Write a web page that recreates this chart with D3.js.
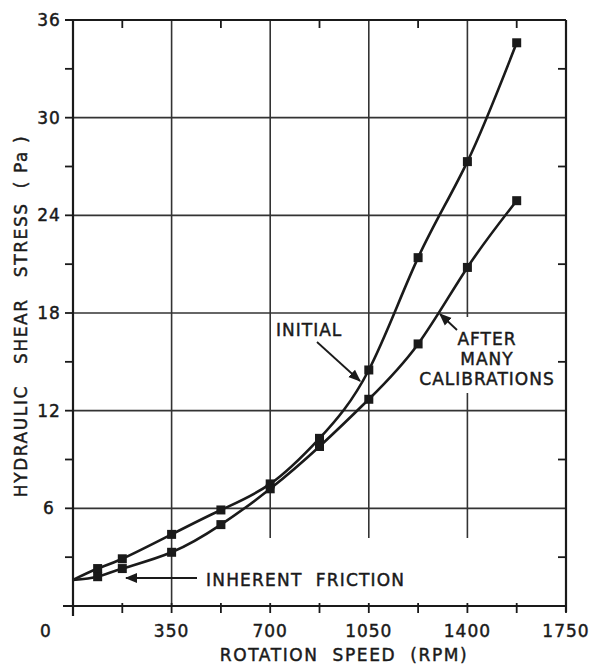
<!DOCTYPE html>
<html>
<head>
<meta charset="utf-8">
<script src="https://cdn.jsdelivr.net/npm/d3@7"></script>
<style>
  body { margin: 0; background: #fff; }
  text { font-family: "DejaVu Sans", sans-serif; fill: #1a1a1a; stroke: #1a1a1a; stroke-width: 0.45; }
</style>
</head>
<body>
<svg id="chart" width="591" height="664"></svg>
<script>
// dati
const rpm = [87.5, 175, 350, 525, 700, 875, 1050, 1225, 1400, 1575];
const initial = [2.3, 2.9, 4.4, 5.9, 7.5, 10.3, 14.5, 21.4, 27.3, 34.6];
const afterCal = [1.8, 2.3, 3.3, 5.0, 7.2, 9.8, 12.7, 16.1, 20.8, 24.9];
const friction = 1.6;
const xTicks = [0, 350, 700, 1050, 1400, 1750];
const yTicks = [6, 12, 18, 24, 30, 36];

const svg = d3.select("#chart");
const ink = "#1a1a1a";

const x = d3.scaleLinear().domain([0, 1750]).range([73, 566]);
const y = d3.scaleLinear().domain([0, 36]).range([606, 20]);

// griglia verticale (alcune linee interrotte come nell'originale)
const gridCut = { 700: 538, 1050: 538, 1400: 538 };
xTicks.slice(1, -1).forEach(v => {
  const yEnd = gridCut[v] || y(0);
  if (v === 1400) {
    svg.append("line").attr("x1", x(v)).attr("x2", x(v)).attr("y1", y(36)).attr("y2", 317);
    svg.append("line").attr("x1", x(v)).attr("x2", x(v)).attr("y1", 393).attr("y2", yEnd);
  } else {
    svg.append("line").attr("x1", x(v)).attr("x2", x(v)).attr("y1", y(36)).attr("y2", yEnd);
  }
});
svg.selectAll("line").attr("stroke", "#333").attr("stroke-width", 1.6);

// griglia orizzontale
svg.selectAll(".hgrid")
  .data(yTicks.slice(0, -1))
  .enter().append("line")
  .attr("class", "hgrid")
  .attr("x1", x(0)).attr("x2", x(1750))
  .attr("y1", d => y(d)).attr("y2", d => y(d))
  .attr("stroke", "#333").attr("stroke-width", 1.6);

// cornice
const frame = svg.append("g").attr("stroke", ink).attr("stroke-width", 2.2);
frame.append("line").attr("x1", x(0)).attr("x2", x(0)).attr("y1", y(36)).attr("y2", y(0) + 10);
frame.append("line").attr("x1", x(0) - 10).attr("x2", x(1750)).attr("y1", y(0)).attr("y2", y(0));
frame.append("line").attr("x1", x(0) - 8).attr("x2", x(1750)).attr("y1", y(36)).attr("y2", y(36));
frame.append("line").attr("x1", x(1750)).attr("x2", x(1750)).attr("y1", y(36)).attr("y2", y(0) + 6);

// tacche
const tk = svg.append("g").attr("stroke", ink).attr("stroke-width", 1.8);
d3.range(0, 37, 3).forEach(v => {
  tk.append("line").attr("x1", x(0) - 8).attr("x2", x(0)).attr("y1", y(v)).attr("y2", y(v));
  if (v % 6 !== 0) {
    tk.append("line").attr("x1", x(1750) - 8).attr("x2", x(1750)).attr("y1", y(v)).attr("y2", y(v));
  }
});
d3.range(0, 1751, 175).forEach(v => {
  tk.append("line").attr("x1", x(v)).attr("x2", x(v)).attr("y1", y(0) - 3).attr("y2", y(0) + 7);
  if (v % 350 !== 0) {
    tk.append("line").attr("x1", x(v)).attr("x2", x(v)).attr("y1", y(36)).attr("y2", y(36) + 8);
  }
});

// etichette assi
svg.selectAll(".ylab")
  .data(yTicks)
  .enter().append("text")
  .attr("x", 49).attr("y", d => y(d) + 6)
  .attr("text-anchor", "middle")
  .attr("font-size", 17).attr("letter-spacing", 1)
  .text(d => d);

svg.selectAll(".xlab")
  .data(xTicks)
  .enter().append("text")
  .attr("x", d => d === 0 ? 46 : x(d)).attr("y", 637)
  .attr("text-anchor", "middle")
  .attr("font-size", 17).attr("letter-spacing", 1)
  .text(d => d);

svg.append("text")
  .attr("x", 344).attr("y", 661)
  .attr("text-anchor", "middle")
  .attr("font-size", 17).attr("letter-spacing", 1.6)
  .attr("xml:space", "preserve")
  .text("ROTATION  SPEED  (RPM)");

svg.append("text")
  .attr("transform", "translate(27,316) rotate(-90)")
  .attr("text-anchor", "middle")
  .attr("font-size", 17).attr("letter-spacing", 1.6)
  .attr("xml:space", "preserve")
  .text("HYDRAULIC   SHEAR   STRESS  ( Pa )");

// curve
const line = d3.line()
  .x(d => x(d[0]))
  .y(d => y(d[1]))
  .curve(d3.curveNatural);

[initial, afterCal].forEach(series => {
  const pts = [[0, friction]].concat(rpm.map((r, i) => [r, series[i]]));
  svg.append("path")
    .attr("d", line(pts))
    .attr("fill", "none")
    .attr("stroke", ink)
    .attr("stroke-width", 2.6);
  svg.selectAll(null)
    .data(rpm.map((r, i) => [r, series[i]]))
    .enter().append("rect")
    .attr("x", d => x(d[0]) - 4.5)
    .attr("y", d => y(d[1]) - 4.5)
    .attr("width", 9).attr("height", 9)
    .attr("fill", ink);
});

// annotazioni
const defs = svg.append("defs");
defs.append("marker")
  .attr("id", "head")
  .attr("viewBox", "0 0 10 10")
  .attr("refX", 9).attr("refY", 5)
  .attr("markerWidth", 7).attr("markerHeight", 7)
  .attr("orient", "auto-start-reverse")
  .append("path").attr("d", "M0,1 L10,5 L0,9 Z").attr("fill", ink);

function arrow(x1, y1, x2, y2) {
  svg.append("line")
    .attr("x1", x1).attr("y1", y1).attr("x2", x2).attr("y2", y2)
    .attr("stroke", ink).attr("stroke-width", 1.8)
    .attr("marker-end", "url(#head)");
}

svg.append("text")
  .attr("x", 206).attr("y", 586)
  .attr("font-size", 17).attr("letter-spacing", 1.2)
  .attr("xml:space", "preserve")
  .text("INHERENT  FRICTION");
arrow(197, 578, 126, 578);

svg.append("text")
  .attr("x", 276).attr("y", 336)
  .attr("font-size", 17).attr("letter-spacing", 1)
  .text("INITIAL");
arrow(317, 342, 360, 381);

svg.selectAll(".after")
  .data(["AFTER", "MANY", "CALIBRATIONS"])
  .enter().append("text")
  .attr("x", 487).attr("y", (d, i) => 345 + i * 20)
  .attr("text-anchor", "middle")
  .attr("font-size", 17).attr("letter-spacing", 1)
  .text(d => d);
arrow(457, 330, 440, 314);
</script>
</body>
</html>
